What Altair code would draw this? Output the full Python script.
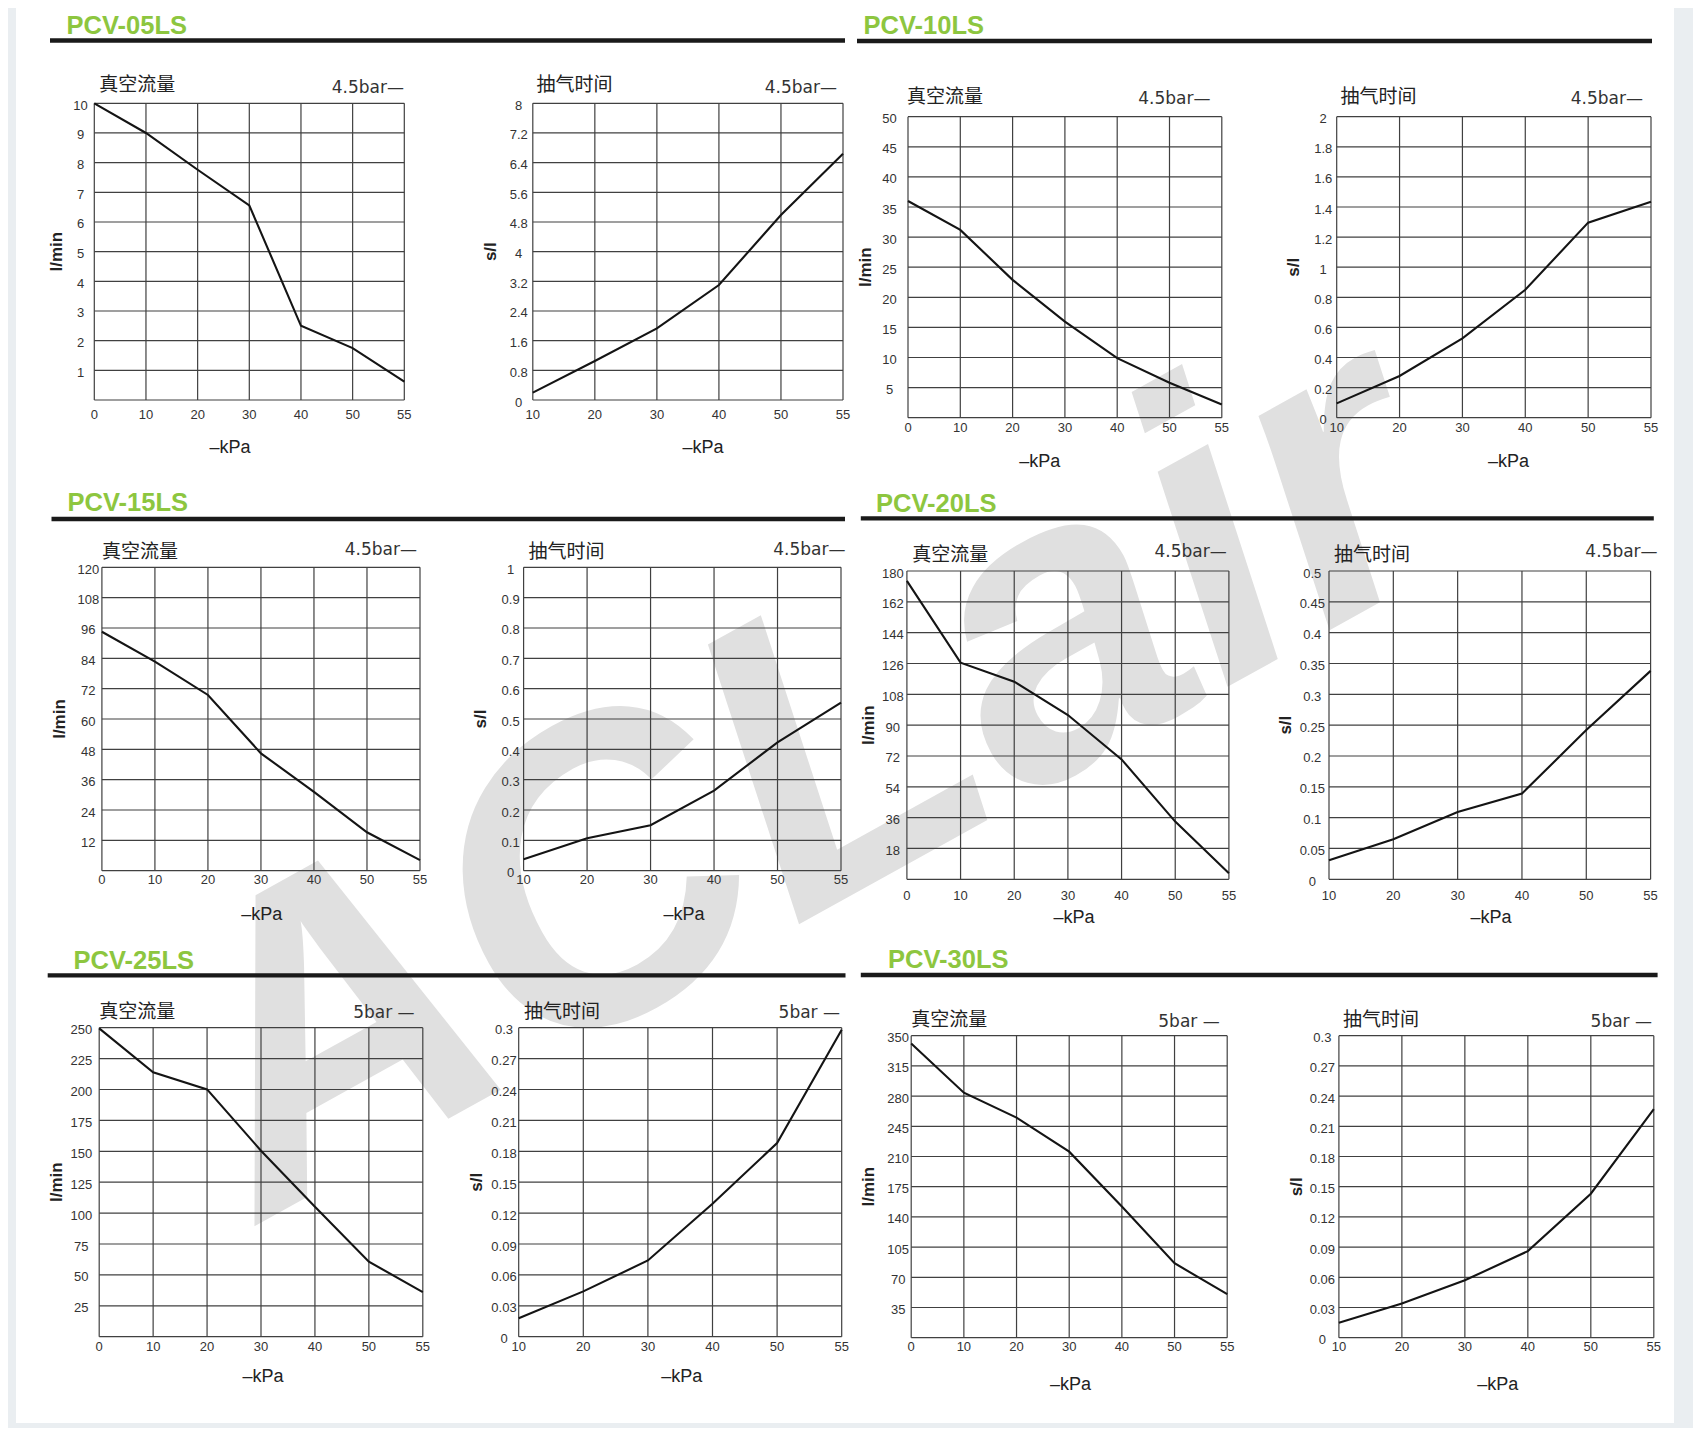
import altair as alt
import pandas as pd

# ---------------- data ----------------
SERIES = ["PCV-05LS", "PCV-10LS", "PCV-15LS", "PCV-20LS", "PCV-25LS", "PCV-30LS"]
PRESSURE = ["4.5bar—", "4.5bar—", "4.5bar—", "4.5bar—", "5bar —", "5bar —"]
FLOW_TITLE = "真空流量"
TIME_TITLE = "抽气时间"
FLOW_UNIT = "l/min"
TIME_UNIT = "s/l"
X_TITLE = "–kPa"
WATERMARK = "ACLair"

KPA_FLOW = [0, 10, 20, 30, 40, 50, 55]
KPA_TIME = [10, 20, 30, 40, 50, 55]

FLOW_05 = [10, 9.0, 7.76, 6.56, 2.5, 1.75, 0.62]
TIME_05 = [0.2, 1.05, 1.93, 3.1, 4.99, 6.64]
FLOW_10 = [36.0, 31.2, 22.9, 15.95, 9.9, 5.8, 2.2]
TIME_10 = [0.095, 0.277, 0.527, 0.85, 1.296, 1.435]
FLOW_15 = [94.5, 82.7, 69.5, 46.4, 31.2, 15.2, 4.2]
TIME_15 = [0.038, 0.107, 0.15, 0.264, 0.423, 0.554]
FLOW_20 = [174.2, 126.5, 115.4, 95.9, 70.0, 33.7, 3.5]
TIME_20 = [0.031, 0.065, 0.109, 0.139, 0.242, 0.338]
FLOW_25 = [249.5, 213.9, 200.1, 150.5, 105.2, 60.7, 36.1]
TIME_25 = [0.018, 0.044, 0.074, 0.129, 0.188, 0.298]
FLOW_30 = [341, 284, 255, 215.6, 152, 86.3, 50.4]
TIME_30 = [0.0149, 0.034, 0.057, 0.086, 0.143, 0.227]

XT_FLOW = [0, 10, 20, 30, 40, 50, 55]
XT_TIME = [10, 20, 30, 40, 50, 55]

YT_FLOW_05 = [1, 2, 3, 4, 5, 6, 7, 8, 9, 10]
YT_TIME_05 = [0, 0.8, 1.6, 2.4, 3.2, 4, 4.8, 5.6, 6.4, 7.2, 8]
YT_FLOW_10 = [5, 10, 15, 20, 25, 30, 35, 40, 45, 50]
YT_TIME_10 = [0, 0.2, 0.4, 0.6, 0.8, 1, 1.2, 1.4, 1.6, 1.8, 2]
YT_FLOW_15 = [12, 24, 36, 48, 60, 72, 84, 96, 108, 120]
YT_TIME_15 = [0, 0.1, 0.2, 0.3, 0.4, 0.5, 0.6, 0.7, 0.8, 0.9, 1]
YT_FLOW_20 = [18, 36, 54, 72, 90, 108, 126, 144, 162, 180]
YT_TIME_20 = [0, 0.05, 0.1, 0.15, 0.2, 0.25, 0.3, 0.35, 0.4, 0.45, 0.5]
YT_FLOW_25 = [25, 50, 75, 100, 125, 150, 175, 200, 225, 250]
YT_TIME_25 = [0, 0.03, 0.06, 0.09, 0.12, 0.15, 0.18, 0.21, 0.24, 0.27, 0.3]
YT_FLOW_30 = [35, 70, 105, 140, 175, 210, 245, 280, 315, 350]
YT_TIME_30 = [0, 0.03, 0.06, 0.09, 0.12, 0.15, 0.18, 0.21, 0.24, 0.27, 0.3]

# ---------------- layout / style ----------------
M = 8            # page margin
W_CHART = 1685
H_CHART = 1420
FONT = "Liberation Sans, Arial, Helvetica, sans-serif"
CJK = "Noto Sans CJK SC"
GRID = "#404040"
LINE = "#141414"
GREEN = "#8dc63f"
BG = "#eaeef1"
LABEL = "#333333"

# page coords: box=(x0,x1,y0,y1), cn=(x,baseline), pr=(right,baseline),
# xl=x-label centre offset, xt=(title centre x, offset), yl=y-label centre offset, yt=y-title x offset
LAYOUT = [
    dict(box=(94.3, 404.3, 103.3, 400), cn=(99.3, 90.5), pr=(404, 92.7), xl=15, xt=(230, 48), yl=13.8, yt=-37.3),
    dict(box=(532.8, 843, 103.3, 400), cn=(536.6, 90.5), pr=(837, 92.7), xl=15, xt=(703, 48), yl=14.1, yt=-42.3),
    dict(box=(908, 1221.8, 116.7, 417.7), cn=(907, 103), pr=(1210.4, 104), xl=10.3, xt=(1039.7, 44), yl=18.4, yt=-42),
    dict(box=(1336.7, 1651, 116.7, 417.7), cn=(1340.5, 103), pr=(1643, 104), xl=10.3, xt=(1508.5, 44), yl=13.5, yt=-42.7),
    dict(box=(101.9, 420, 567.3, 870.7), cn=(101.9, 558), pr=(417, 555), xl=9.3, xt=(261.8, 44.3), yl=13.6, yt=-42.3),
    dict(box=(523.6, 841, 567.3, 870.7), cn=(528.5, 558), pr=(845.5, 555), xl=9.3, xt=(684, 44.3), yl=13, yt=-42.8),
    dict(box=(906.9, 1228.9, 571, 879.3), cn=(912.3, 560.5), pr=(1226.7, 557), xl=16.4, xt=(1073.9, 39), yl=14.1, yt=-38),
    dict(box=(1329, 1650.6, 571, 879.3), cn=(1334, 560.5), pr=(1657.6, 557), xl=16.4, xt=(1491, 39), yl=16.7, yt=-43),
    dict(box=(99.2, 422.8, 1027.7, 1336.7), cn=(99.2, 1018), pr=(414.6, 1018), xl=10, xt=(263, 40), yl=17.9, yt=-42.2),
    dict(box=(518.7, 841.7, 1027.7, 1336.7), cn=(524, 1018), pr=(840, 1018), xl=10, xt=(681.8, 40), yl=14.7, yt=-41.7),
    dict(box=(911.2, 1227.2, 1035.7, 1337.7), cn=(911.2, 1026), pr=(1219.7, 1026.7), xl=9.6, xt=(1070.6, 47.3), yl=13, yt=-42.2),
    dict(box=(1338.9, 1653.8, 1035.7, 1337.7), cn=(1343, 1026), pr=(1652, 1026.7), xl=9.6, xt=(1497.7, 47.3), yl=16.5, yt=-41.9),
]

# header: text (x, baseline), rule (x1, x2, y)
HEADERS = [
    dict(t=(66.5, 34), r=(50, 845, 40.5)),
    dict(t=(863.5, 34), r=(857, 1652, 41)),
    dict(t=(67.5, 511), r=(51.5, 845, 519)),
    dict(t=(876, 512.3), r=(860.8, 1653.8, 518.3)),
    dict(t=(73.5, 969), r=(47.7, 845.5, 975.3)),
    dict(t=(888, 968.3), r=(860.8, 1657.6, 975)),
]
PAPER = (16, 1674, 8, 1423)
WM_POS = (262, 1222)     # watermark baseline start (page coords)


def panel(xs, ys, xticks, yticks, cn_title, unit, press, L):
    x0, x1, y0, y1 = [v - M for v in L["box"]]
    # the kPa axis is drawn with evenly spaced ticks (50 -> 55 as wide as 40 -> 50)
    xscale = alt.Scale(type="point", domain=xticks, range=[x0, x1], padding=0)
    yscale = alt.Scale(domain=[0, yticks[-1]], range=[y1, y0], nice=False, zero=False)
    ygrid = sorted(set([0] + yticks))

    hgrid = alt.Chart(pd.DataFrame({"val": ygrid})).mark_rule(color=GRID, strokeWidth=1.2).encode(
        y=alt.Y("val:Q", scale=yscale, axis=None), x=alt.value(x0), x2=alt.value(x1))
    vgrid = alt.Chart(pd.DataFrame({"kPa": xticks})).mark_rule(color=GRID, strokeWidth=1.2).encode(
        x=alt.X("kPa:O", scale=xscale, axis=None), y=alt.value(y0), y2=alt.value(y1))
    line = alt.Chart(pd.DataFrame({"kPa": xs, "val": ys})).mark_line(
        color=LINE, strokeWidth=2.1).encode(
        x=alt.X("kPa:O", scale=xscale, axis=None),
        y=alt.Y("val:Q", scale=yscale, axis=None))
    xlab = alt.Chart(pd.DataFrame({"kPa": xticks})).mark_text(
        font=FONT, fontSize=13, color=LABEL, align="center", baseline="middle").encode(
        x=alt.X("kPa:O", scale=xscale, axis=None), y=alt.value(y1 + L["xl"]),
        text=alt.Text("kPa:N"))
    ylab = alt.Chart(pd.DataFrame({"val": yticks})).mark_text(
        font=FONT, fontSize=13, color=LABEL, align="center", baseline="middle", dy=2.5).encode(
        y=alt.Y("val:Q", scale=yscale, axis=None), x=alt.value(x0 - L["yl"]),
        text=alt.Text("val:Q", format="~g"))
    xtitle = alt.Chart(pd.DataFrame({"t": [X_TITLE]})).mark_text(
        font=FONT, fontSize=18, color="#222222", align="center", baseline="middle").encode(
        text="t:N", x=alt.value(L["xt"][0] - M), y=alt.value(y1 + L["xt"][1]))
    ytitle = alt.Chart(pd.DataFrame({"t": [unit]})).mark_text(
        font=FONT, fontSize=17, fontWeight="bold", color="#222222", align="center",
        baseline="middle", angle=270).encode(
        text="t:N", x=alt.value(x0 + L["yt"]), y=alt.value((y0 + y1) / 2))
    t_cn = alt.Chart(pd.DataFrame({"t": [cn_title]})).mark_text(
        align="left", baseline="alphabetic", font=CJK, fontSize=19, color="#222222").encode(
        text="t:N", x=alt.value(L["cn"][0] - M), y=alt.value(L["cn"][1] - M))
    t_pr = alt.Chart(pd.DataFrame({"t": [press]})).mark_text(
        align="right", baseline="alphabetic", font="DejaVu Sans", fontSize=17, color="#333333").encode(
        text="t:N", x=alt.value(L["pr"][0] - M), y=alt.value(L["pr"][1] - M))
    return alt.layer(hgrid, vgrid, line, xlab, ylab, xtitle, ytitle, t_cn, t_pr)


one = pd.DataFrame({"a": [0]})
paper = alt.Chart(one).mark_rect(color="white").encode(
    x=alt.value(PAPER[0] - M), x2=alt.value(PAPER[1] - M),
    y=alt.value(PAPER[2] - M), y2=alt.value(PAPER[3] - M))
watermark = alt.Chart(pd.DataFrame({"t": [WATERMARK]})).mark_text(
    font=FONT, fontSize=420, fontWeight="bold", fontStyle="italic", color="#e0e0e0",
    align="left", baseline="alphabetic", angle=331).encode(
    text="t:N", x=alt.value(WM_POS[0] - M), y=alt.value(WM_POS[1] - M))

layers = [paper, watermark]
for name, H in zip(SERIES, HEADERS):
    layers.append(alt.Chart(pd.DataFrame({"t": [name]})).mark_text(
        align="left", baseline="alphabetic", font=FONT, fontSize=25.5, fontWeight="bold", color=GREEN).encode(
        text="t:N", x=alt.value(H["t"][0] - M), y=alt.value(H["t"][1] - M)))
    layers.append(alt.Chart(one).mark_rule(color="#1a1a1a", strokeWidth=4.3).encode(
        x=alt.value(H["r"][0] - M), x2=alt.value(H["r"][1] - M), y=alt.value(H["r"][2] - M)))

flows = [FLOW_05, FLOW_10, FLOW_15, FLOW_20, FLOW_25, FLOW_30]
times = [TIME_05, TIME_10, TIME_15, TIME_20, TIME_25, TIME_30]
yt_flows = [YT_FLOW_05, YT_FLOW_10, YT_FLOW_15, YT_FLOW_20, YT_FLOW_25, YT_FLOW_30]
yt_times = [YT_TIME_05, YT_TIME_10, YT_TIME_15, YT_TIME_20, YT_TIME_25, YT_TIME_30]

for i in range(6):
    layers.append(panel(KPA_FLOW, flows[i], XT_FLOW, yt_flows[i], FLOW_TITLE, FLOW_UNIT, PRESSURE[i], LAYOUT[2 * i]))
    layers.append(panel(KPA_TIME, times[i], XT_TIME, yt_times[i], TIME_TITLE, TIME_UNIT, PRESSURE[i], LAYOUT[2 * i + 1]))

chart = alt.layer(*layers).resolve_scale(x="independent", y="independent").properties(
    width=W_CHART, height=H_CHART, background=BG, padding=0,
    autosize=alt.AutoSizeParams(type="none"),
).configure_view(strokeWidth=0)

chart.save("out.html", embed_options={"renderer": "svg", "actions": False})
